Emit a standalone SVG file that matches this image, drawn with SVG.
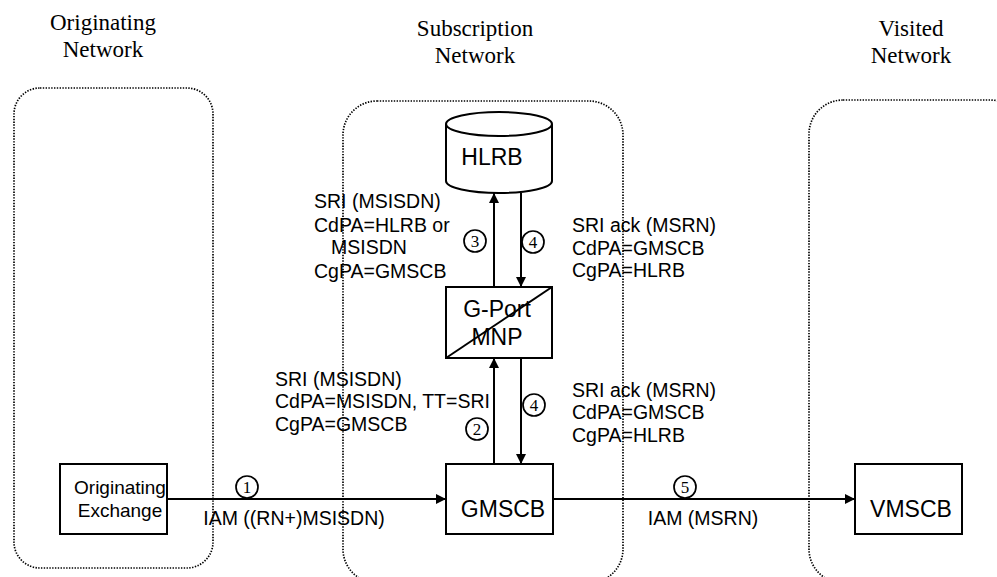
<svg xmlns="http://www.w3.org/2000/svg" width="997" height="577" viewBox="0 0 997 577">
<defs>
<style>
.title{font-family:"Liberation Serif","Times New Roman",serif;font-size:23px;fill:#000;text-anchor:middle}
.node{font-family:"Liberation Sans",Arial,sans-serif;font-size:23px;fill:#000;text-anchor:middle}
.small{font-family:"Liberation Sans",Arial,sans-serif;font-size:19px;fill:#000;text-anchor:middle}
.lbl{font-family:"Liberation Sans",Arial,sans-serif;font-size:19.5px;fill:#000}
.num{font-family:"Liberation Serif","Times New Roman",serif;font-size:17px;fill:#000;text-anchor:middle}
.zone{fill:none;stroke:#000;stroke-width:1.7;stroke-dasharray:1.4 1.4}
.box{fill:#fff;stroke:#000;stroke-width:2}
.line{fill:none;stroke:#000;stroke-width:2}
.circ{fill:#fff;stroke:#000;stroke-width:1.7}
</style>
<marker id="ah" viewBox="0 0 10 10" refX="10" refY="5" markerWidth="10" markerHeight="10" markerUnits="userSpaceOnUse" orient="auto">
<path d="M0,0 L10,5 L0,10 z" fill="#000"/>
</marker>
</defs>
<rect width="997" height="577" fill="#fff"/>

<g id="zones">
<rect class="zone" x="14" y="88" width="199" height="480" rx="26" ry="26"/>
<rect class="zone" x="343" y="101" width="280" height="482" rx="34" ry="34"/>
<rect class="zone" x="809" y="100" width="215" height="483" rx="34" ry="34"/>
<text class="title" x="103" y="30">Originating</text>
<text class="title" x="103" y="57">Network</text>
<text class="title" x="475" y="36">Subscription</text>
<text class="title" x="475" y="63">Network</text>
<text class="title" x="911" y="36">Visited</text>
<text class="title" x="911" y="63">Network</text>
</g>

<g id="connectors">
<line class="line" x1="167" y1="499" x2="446" y2="499" marker-end="url(#ah)"/>
<line class="line" x1="553" y1="499" x2="855" y2="499" marker-end="url(#ah)"/>
<line class="line" x1="494" y1="464" x2="494" y2="358" marker-end="url(#ah)"/>
<line class="line" x1="521" y1="358" x2="521" y2="464" marker-end="url(#ah)"/>
<line class="line" x1="494" y1="287" x2="494" y2="193" marker-end="url(#ah)"/>
<line class="line" x1="521" y1="193" x2="521" y2="287" marker-end="url(#ah)"/>
<circle class="circ" cx="247" cy="487" r="11"/><text class="num" x="247" y="493">1</text>
<circle class="circ" cx="685" cy="487" r="11"/><text class="num" x="685" y="493">5</text>
<circle class="circ" cx="477" cy="429" r="11"/><text class="num" x="477" y="435">2</text>
<circle class="circ" cx="534" cy="405" r="11"/><text class="num" x="534" y="411">4</text>
<circle class="circ" cx="475" cy="241" r="11"/><text class="num" x="475" y="247">3</text>
<circle class="circ" cx="533" cy="242" r="11"/><text class="num" x="533" y="248">4</text>
<text class="lbl" x="294" y="525" text-anchor="middle">IAM ((RN+)MSISDN)</text>
<text class="lbl" x="703" y="525" text-anchor="middle">IAM (MSRN)</text>
<text class="lbl" x="314" y="208">SRI (MSISDN)</text>
<text class="lbl" x="314" y="232">CdPA=HLRB or</text>
<text class="lbl" x="331" y="254">MSISDN</text>
<text class="lbl" x="314" y="278">CgPA=GMSCB</text>
<text class="lbl" x="572" y="232">SRI ack (MSRN)</text>
<text class="lbl" x="572" y="255">CdPA=GMSCB</text>
<text class="lbl" x="572" y="277">CgPA=HLRB</text>
<text class="lbl" x="275" y="386">SRI (MSISDN)</text>
<text class="lbl" x="275" y="408">CdPA=MSISDN, TT=SRI</text>
<text class="lbl" x="275" y="431">CgPA=GMSCB</text>
<text class="lbl" x="572" y="397">SRI ack (MSRN)</text>
<text class="lbl" x="572" y="419">CdPA=GMSCB</text>
<text class="lbl" x="572" y="442">CgPA=HLRB</text>
</g>

<g id="originating-exchange">
<rect class="box" x="60" y="464" width="107" height="70"/>
<text class="small" x="120" y="494">Originating</text>
<text class="small" x="120" y="517">Exchange</text>
</g>

<g id="hlrb">
<path class="box" d="M446,124 L446,181 A53,12 0 0 0 552,181 L552,124"/>
<ellipse class="box" cx="499" cy="124" rx="53" ry="12"/>
<text class="node" x="492" y="165">HLRB</text>
</g>

<g id="gport">
<rect class="box" x="446" y="287" width="106" height="71"/>
<line class="line" x1="446" y1="358" x2="552" y2="287"/>
<text class="node" x="497" y="317">G-Port</text>
<text class="node" x="497" y="345">MNP</text>
</g>

<g id="gmscb">
<rect class="box" x="446" y="464" width="107" height="70"/>
<text class="node" x="503" y="517">GMSCB</text>
</g>

<g id="vmscb">
<rect class="box" x="855" y="464" width="107" height="70"/>
<text class="node" x="911" y="517">VMSCB</text>
</g>
</svg>
